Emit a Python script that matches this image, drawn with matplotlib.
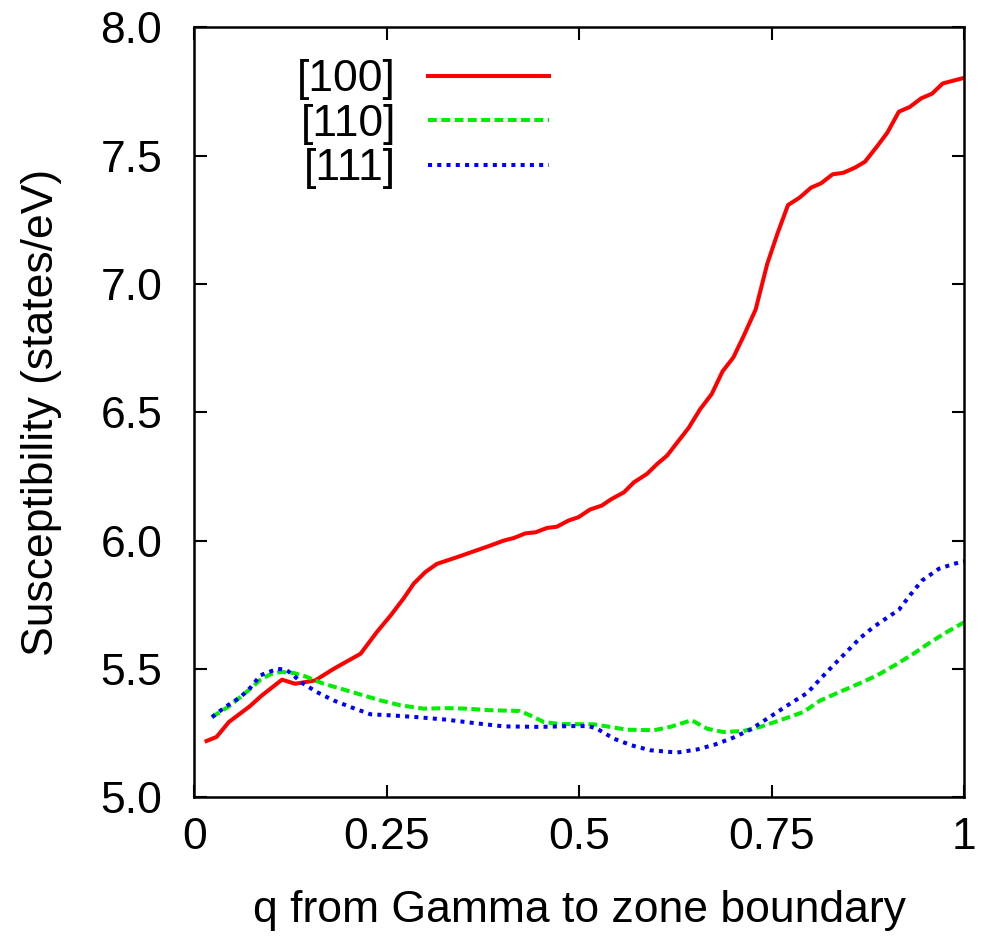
import matplotlib
matplotlib.use("Agg")
import matplotlib.pyplot as plt

plt.rcParams['font.family'] = ['Liberation Sans', 'DejaVu Sans']

# [100] direction
q_100 = [0.016, 0.029, 0.045, 0.072, 0.088, 0.114, 0.131, 0.157, 0.181, 0.216,
         0.237, 0.255, 0.272, 0.285, 0.300, 0.315, 0.341, 0.384, 0.402, 0.415,
         0.430, 0.443, 0.458, 0.471, 0.486, 0.499, 0.514, 0.529, 0.542, 0.558,
         0.571, 0.588, 0.601, 0.614, 0.629, 0.642, 0.657, 0.672, 0.686, 0.700,
         0.713, 0.729, 0.744, 0.757, 0.771, 0.786, 0.801, 0.814, 0.829, 0.843,
         0.858, 0.871, 0.887, 0.900, 0.915, 0.929, 0.944, 0.958, 0.972, 0.986,
         1.000]
chi_100 = [5.219, 5.235, 5.293, 5.354, 5.397, 5.458, 5.442, 5.455, 5.500, 5.559,
           5.643, 5.708, 5.775, 5.832, 5.877, 5.909, 5.935, 5.980, 6.000, 6.010,
           6.028, 6.032, 6.049, 6.054, 6.078, 6.091, 6.121, 6.136, 6.162, 6.188,
           6.227, 6.260, 6.298, 6.331, 6.389, 6.439, 6.512, 6.571, 6.659, 6.713,
           6.794, 6.900, 7.077, 7.193, 7.307, 7.336, 7.375, 7.392, 7.427, 7.433,
           7.453, 7.476, 7.537, 7.589, 7.671, 7.689, 7.723, 7.741, 7.781, 7.792,
           7.803]

# [110] direction
q_110 = [0.023, 0.047, 0.068, 0.086, 0.099, 0.112, 0.129, 0.144, 0.168, 0.190,
         0.216, 0.242, 0.268, 0.298, 0.328, 0.354, 0.384, 0.423, 0.436, 0.454,
         0.475, 0.519, 0.540, 0.562, 0.597, 0.618, 0.646, 0.666, 0.687, 0.713,
         0.735, 0.761, 0.791, 0.813, 0.835, 0.865, 0.887, 0.913, 0.934, 0.956,
         0.977, 1.000]
chi_110 = [5.312, 5.358, 5.410, 5.458, 5.479, 5.488, 5.484, 5.471, 5.442, 5.423,
           5.400, 5.377, 5.358, 5.345, 5.347, 5.345, 5.339, 5.336, 5.319, 5.293,
           5.285, 5.284, 5.274, 5.263, 5.261, 5.274, 5.300, 5.267, 5.254, 5.258,
           5.274, 5.300, 5.332, 5.377, 5.406, 5.445, 5.475, 5.520, 5.559, 5.604,
           5.643, 5.682]

# [111] direction
q_111 = [0.023, 0.040, 0.060, 0.073, 0.086, 0.097, 0.108, 0.119, 0.129, 0.138,
         0.159, 0.181, 0.205, 0.229, 0.255, 0.289, 0.328, 0.363, 0.402, 0.449,
         0.488, 0.512, 0.523, 0.545, 0.568, 0.592, 0.627, 0.653, 0.677, 0.700,
         0.722, 0.744, 0.774, 0.796, 0.813, 0.830, 0.848, 0.865, 0.882, 0.904,
         0.915, 0.930, 0.945, 0.967, 0.986, 1.000]
chi_111 = [5.312, 5.351, 5.390, 5.427, 5.475, 5.488, 5.500, 5.497, 5.475, 5.449,
           5.410, 5.377, 5.349, 5.323, 5.319, 5.312, 5.302, 5.289, 5.276, 5.274,
           5.277, 5.277, 5.267, 5.228, 5.202, 5.183, 5.174, 5.186, 5.206, 5.232,
           5.263, 5.306, 5.365, 5.406, 5.461, 5.514, 5.569, 5.621, 5.663, 5.708,
           5.730, 5.789, 5.844, 5.890, 5.909, 5.919]

x_ticks = [0, 0.25, 0.5, 0.75, 1]
x_labels = ['0', '0.25', '0.5', '0.75', '1']
y_ticks = [5.0, 5.5, 6.0, 6.5, 7.0, 7.5, 8.0]
y_labels = ['5.0', '5.5', '6.0', '6.5', '7.0', '7.5', '8.0']

fs = 32
fig = plt.figure(figsize=(9.81, 9.39), dpi=100)
ax = fig.add_axes([0.198, 0.151, 0.785, 0.820])

ax.plot(q_100, chi_100, color='#ff0000', lw=2.9, ls='-', label='[100]')
ax.plot(q_110, chi_110, color='#00ee00', lw=2.9, ls=(0, (2.2, 1.1)), label='[110]')
ax.plot(q_111, chi_111, color='#0000ff', lw=2.9, ls=(0, (1.0, 1.3)), label='[111]')

ax.set_xlim(0, 1)
ax.set_ylim(5.0, 8.0)
ax.set_xticks(x_ticks)
ax.set_xticklabels(x_labels)
ax.set_yticks(y_ticks)
ax.set_yticklabels(y_labels)
ax.tick_params(direction='in', length=9, width=1.5, labelsize=fs,
               top=True, right=True)
ax.tick_params(axis='x', pad=14)
ax.tick_params(axis='y', pad=23)
for sp in ax.spines.values():
    sp.set_linewidth(1.8)

ax.set_xlabel('q from Gamma to zone boundary', fontsize=fs, labelpad=23)
ax.set_ylabel('Susceptibility (states/eV)', fontsize=fs, labelpad=28)

ax.legend(loc='center', bbox_to_anchor=(0.297, 0.874), frameon=False,
          markerfirst=False, fontsize=fs, handlelength=2.72, handletextpad=0.72,
          labelspacing=0.08, borderpad=0.0)

fig.savefig('out.png', dpi=100)
